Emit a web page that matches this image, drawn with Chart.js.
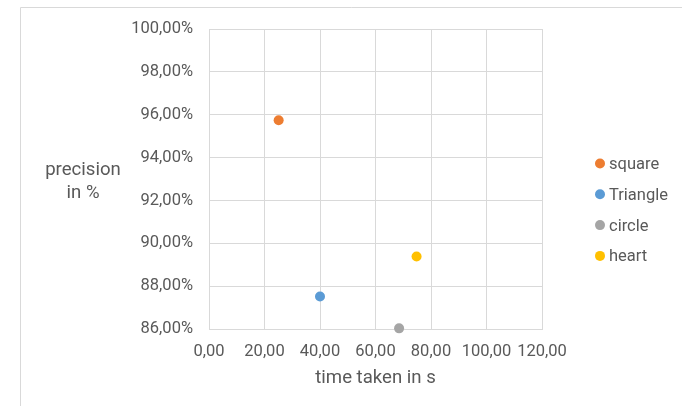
<!DOCTYPE html>
<html>
<head>
<meta charset="utf-8">
<script src="https://cdn.jsdelivr.net/npm/chart.js@4.4.0/dist/chart.umd.min.js"></script>
<style>
  body { margin: 0; background: #fff; }
  canvas { display: block; }
</style>
</head>
<body>
<canvas id="myChart" width="682" height="406"></canvas>
<script>
// shapes drawn and measured results
const shapes = ['square', 'Triangle', 'circle', 'heart'];
const timeTaken = [25.1, 40.0, 68.5, 74.8];
const precision = [95.74, 87.52, 86.03, 89.38];
const shapeColors = ['#ED7D31', '#5B9BD5', '#A5A5A5', '#FFC000'];

const xTickLabels = ['0,00', '20,00', '40,00', '60,00', '80,00', '100,00', '120,00'];
const yTickLabels = ['86,00%', '88,00%', '90,00%', '92,00%', '94,00%', '96,00%', '98,00%', '100,00%'];

const textColor = '#595959';
const gridColor = '#d9d9d9';

// one dataset per shape so each gets its own legend entry
const datasets = shapes.map((name, i) => ({
    label: name,
    data: [{ x: timeTaken[i], y: precision[i] }],
    backgroundColor: shapeColors[i],
    borderColor: shapeColors[i],
    pointRadius: 5,
    pointBorderWidth: 0,
    clip: false
}));

// frame line, horizontal y title and the legend on the right
const extras = {
    id: 'extras',
    beforeDraw(chart) {
        const ctx = chart.ctx;
        ctx.save();
        ctx.strokeStyle = gridColor;
        ctx.lineWidth = 1;
        ctx.beginPath();
        ctx.moveTo(20.5, 406);
        ctx.lineTo(20.5, 7.5);
        ctx.lineTo(682, 7.5);
        ctx.stroke();
        ctx.restore();
    },
    afterDraw(chart) {
        const ctx = chart.ctx;
        ctx.save();
        ctx.fillStyle = textColor;
        ctx.font = '18.6px Roboto';
        ctx.textAlign = 'center';
        ctx.textBaseline = 'alphabetic';
        ctx.fillText('precision', 83, 175);
        ctx.fillText('in %', 83, 198);

        ctx.font = '16.5px Roboto';
        ctx.textAlign = 'left';
        chart.data.datasets.forEach((ds, i) => {
            const y = 163.5 + i * 30.8;
            ctx.fillStyle = ds.backgroundColor;
            ctx.beginPath();
            ctx.arc(600, y, 5, 0, Math.PI * 2);
            ctx.fill();
            ctx.fillStyle = textColor;
            ctx.fillText(ds.label, 609, y + 5.5);
        });
        ctx.restore();
    }
};

new Chart(document.getElementById('myChart'), {
    type: 'scatter',
    data: { datasets },
    options: {
        responsive: false,
        animation: false,
        layout: { padding: { left: 0, top: 29, right: 140, bottom: 0 } },
        plugins: {
            legend: { display: false },
            tooltip: { enabled: false }
        },
        scales: {
            x: {
                min: 0,
                max: 120,
                ticks: {
                    stepSize: 20,
                    color: textColor,
                    font: { family: 'Roboto', size: 16.5 },
                    padding: 12.5,
                    maxRotation: 0,
                    callback: (v, i) => xTickLabels[i]
                },
                grid: { color: gridColor, drawTicks: false },
                border: { color: gridColor },
                title: {
                    display: true,
                    text: 'time taken in s',
                    color: textColor,
                    font: { family: 'Roboto', size: 18.6 },
                    padding: { top: 0, bottom: 16.5 }
                },
                afterFit(scale) { scale.height = 77; }
            },
            y: {
                min: 86,
                max: 100,
                ticks: {
                    stepSize: 2,
                    color: textColor,
                    font: { family: 'Roboto', size: 16.5 },
                    padding: 16,
                    callback: (v, i) => yTickLabels[i]
                },
                grid: { color: gridColor, drawTicks: false },
                border: { color: gridColor },
                afterFit(scale) { scale.width = 209; }
            }
        }
    },
    plugins: [extras]
});
</script>
</body>
</html>
